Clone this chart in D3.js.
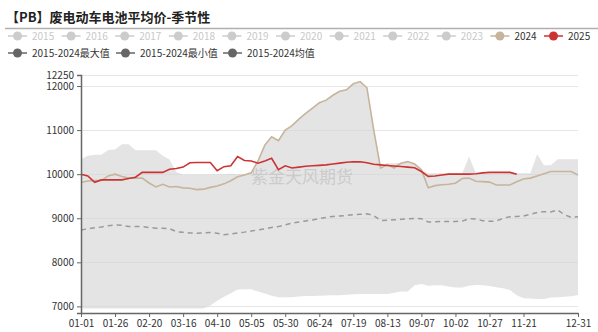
<!DOCTYPE html>
<html>
<head>
<meta charset="utf-8">
<script src="https://cdn.jsdelivr.net/npm/d3@7"></script>
<style>
  html, body { margin: 0; padding: 0; background: #fff; }
  svg { display: block; font-family: "Noto Sans CJK SC", "Noto Sans", sans-serif; }
</style>
</head>
<body>
<svg id="chart" width="598" height="332"></svg>
<script>
// sample every 5 days across a leap-year calendar (01-01 .. 12-31)
const sampleDays = d3.range(0, 366, 5).map(d => d3.timeDay.offset(new Date(2024, 0, 1), d));
const tickLabels = ['01-01', '01-26', '02-20', '03-16', '04-10', '05-05', '05-30', '06-24',
  '07-19', '08-13', '09-07', '10-02', '10-27', '11-21', '12-31'];
const yTicks = [7000, 8000, 9000, 10000, 11000, 12000, 12250];

const legendYears = ['2015', '2016', '2017', '2018', '2019', '2020', '2021', '2022', '2023', '2024', '2025'];
const legendStats = ['2015-2024最大值', '2015-2024最小值', '2015-2024均值'];

const maxValues = [10340, 10420, 10440, 10440, 10550, 10560, 10680, 10680, 10540, 10540,
  10540, 10540, 10420, 10330, 10050, 9985, 9985, 9985, 9985, 9985,
  9990, 10000, 10010, 10000, 10000, 10030, 10300, 10660, 10850, 10760,
  11000, 11100, 11250, 11380, 11500, 11620, 11680, 11790, 11880, 11915,
  12050, 12100, 11960, 11000, 10140, 10250, 10250, 10260, 10285, 10250,
  10100, 10020, 10020, 10020, 10020, 10020, 10020, 10400, 10020, 10020,
  10020, 10020, 10020, 10060, 10020, 10020, 10020, 10450, 10200, 10200,
  10340, 10340, 10340, 10340];
const minValues = [6950, 6950, 6950, 6950, 6950, 6950, 6950, 6950, 6950, 6950,
  6950, 6950, 6950, 6950, 6950, 6950, 6950, 6950, 6950, 7020,
  7130, 7220, 7300, 7385, 7390, 7390, 7335, 7290, 7240, 7210,
  7205, 7210, 7225, 7235, 7235, 7240, 7245, 7250, 7255, 7265,
  7275, 7280, 7280, 7280, 7280, 7280, 7310, 7335, 7335, 7480,
  7510, 7470, 7480, 7480, 7450, 7430, 7430, 7470, 7485, 7480,
  7460, 7435, 7410, 7370, 7250, 7185, 7180, 7170, 7165, 7200,
  7205, 7220, 7230, 7260];
const meanValues = [8735, 8760, 8785, 8800, 8830, 8845, 8840, 8815, 8810, 8810,
  8790, 8775, 8775, 8765, 8695, 8680, 8665, 8660, 8665, 8675,
  8660, 8625, 8645, 8665, 8685, 8710, 8735, 8760, 8790, 8810,
  8850, 8890, 8915, 8940, 8960, 8990, 9020, 9040, 9050, 9065,
  9080, 9090, 9100, 9060, 8950, 8955, 8965, 8975, 8985, 8995,
  8990, 8915, 8920, 8925, 8925, 8925, 8935, 8990, 8985, 8945,
  8930, 8935, 9000, 9035, 9040, 9050, 9090, 9130, 9150, 9140,
  9190, 9080, 9020, 9035];
const values2024 = [9810, 9845, 9855, 9855, 9960, 10000, 9945, 9910, 9910, 9910,
  9800, 9710, 9770, 9710, 9720, 9690, 9680, 9650, 9660, 9700,
  9730, 9780, 9850, 9940, 9980, 10030, 10300, 10660, 10850, 10760,
  11000, 11100, 11250, 11380, 11500, 11620, 11680, 11790, 11880, 11915,
  12050, 12100, 11960, 11000, 10140, 10220, 10140, 10250, 10285, 10230,
  10100, 9690, 9740, 9760, 9770, 9795, 9900, 9910, 9840, 9830,
  9820, 9755, 9755, 9755, 9830, 9890, 9910, 9960, 10010, 10060,
  10060, 10060, 10060, 9980];
const values2025 = [10000, 9960, 9815, 9870, 9870, 9870, 9870, 9900, 9930, 10040,
  10045, 10040, 10040, 10110, 10130, 10160, 10260, 10265, 10265, 10265,
  10080, 10170, 10190, 10400, 10310, 10300, 10250, 10300, 10360, 10100,
  10190, 10140, 10160, 10180, 10190, 10200, 10210, 10230, 10250, 10270,
  10280, 10280, 10260, 10225, 10210, 10195, 10185, 10175, 10160, 10145,
  10060, 9950, 9960, 9980, 10000, 10000, 10000, 10000, 10010, 10030,
  10040, 10040, 10040, 10040, 10000];

const colors = { hidden: '#cccccc', y2024: '#c6b49c', y2025: '#cc3333', stat: '#666666' };

const svg = d3.select('#chart');
const x = d3.scaleTime()
  .domain([new Date(2024, 0, 1), new Date(2024, 11, 31)])
  .range([81, 578]);
const y = d3.scaleLinear().domain([6850, 12250]).range([313, 75]);

// title
svg.append('text')
  .attr('x', 6).attr('y', 22)
  .attr('font-size', 13).attr('font-weight', 'bold').attr('fill', '#222')
  .text('【PB】废电动车电池平均价-季节性');
svg.append('line')
  .attr('x1', 5).attr('x2', 598).attr('y1', 28.5).attr('y2', 28.5)
  .attr('stroke', '#b0b0b0').attr('stroke-width', 1.5);

// legend
function legendItem(g, lx, ly, label, col, textCol) {
  g.append('line').attr('x1', lx - 24).attr('x2', lx - 5).attr('y1', ly).attr('y2', ly)
    .attr('stroke', col).attr('stroke-width', 1.5);
  g.append('circle').attr('cx', lx - 14.5).attr('cy', ly).attr('r', 4.5).attr('fill', col);
  g.append('text').attr('x', lx).attr('y', ly + 3.5).attr('font-size', 10)
    .attr('fill', textCol).text(label);
}
const legend = svg.append('g');
legendYears.forEach((yr, i) => {
  const col = yr === '2024' ? colors.y2024 : yr === '2025' ? colors.y2025 : colors.hidden;
  legendItem(legend, 32 + i * 53.6, 36, yr, col, col === colors.hidden ? '#c8c8c8' : '#333');
});
legendStats.forEach((s, i) => {
  legendItem(legend, [32, 140, 247][i], 53, s, colors.stat, '#333');
});

// band between min and max
const band = sampleDays.map((d, i) => ({ d, lo: minValues[i], hi: maxValues[i] }));
svg.append('path')
  .datum(band)
  .attr('fill', '#e4e4e4')
  .attr('d', d3.area().x(p => x(p.d)).y0(p => y(p.lo)).y1(p => y(p.hi)));

// grid lines
svg.append('g')
  .selectAll('line')
  .data(yTicks)
  .join('line')
  .attr('x1', 81).attr('x2', 578)
  .attr('y1', v => Math.round(y(v)) + 0.5).attr('y2', v => Math.round(y(v)) + 0.5)
  .attr('stroke', '#d6d6d6').attr('stroke-opacity', 0.6);

// watermark
svg.append('text')
  .attr('x', 302).attr('y', 183).attr('text-anchor', 'middle')
  .attr('font-size', 17).attr('fill', '#c4c4c4').attr('fill-opacity', 0.8)
  .text('紫金天风期货');

// mean dashed line
const line = d3.line().defined(p => p.v != null).x(p => x(p.d)).y(p => y(p.v));
svg.append('path')
  .datum(sampleDays.map((d, i) => ({ d, v: meanValues[i] })))
  .attr('fill', 'none').attr('stroke', '#9a9a9a').attr('stroke-width', 1.5)
  .attr('stroke-dasharray', '5,4')
  .attr('d', line);

svg.append('path')
  .datum(sampleDays.map((d, i) => ({ d, v: values2024[i] })))
  .attr('fill', 'none').attr('stroke', colors.y2024).attr('stroke-width', 1.6)
  .attr('d', line);

svg.append('path')
  .datum(sampleDays.slice(0, values2025.length).map((d, i) => ({ d, v: values2025[i] })))
  .attr('fill', 'none').attr('stroke', colors.y2025).attr('stroke-width', 1.6)
  .attr('d', line);

// axes
const yAxis = svg.append('g')
  .attr('transform', 'translate(81,0)')
  .call(d3.axisLeft(y).tickValues(yTicks).tickSize(4).tickFormat(d3.format('d')));
yAxis.select('.domain').attr('stroke', '#666').attr('stroke-width', 1.5);
yAxis.selectAll('.tick line').attr('stroke', '#666');
yAxis.selectAll('text').attr('font-size', 10).attr('fill', '#333')
  .attr('font-family', '"Noto Sans CJK SC", sans-serif');

const parseMD = d3.timeParse('%Y-%m-%d');
const xAxis = svg.append('g')
  .attr('transform', 'translate(0,313)')
  .call(d3.axisBottom(x)
    .tickValues(tickLabels.map(t => parseMD('2024-' + t)))
    .tickSize(4)
    .tickSizeOuter(0)
    .tickFormat(d3.timeFormat('%m-%d')));
xAxis.select('.domain').attr('stroke', '#666').attr('stroke-width', 1.5);
xAxis.selectAll('.tick line').attr('stroke', '#666');
xAxis.selectAll('text').attr('font-size', 10).attr('fill', '#333')
  .attr('font-family', '"Noto Sans CJK SC", sans-serif');
</script>
</body>
</html>
